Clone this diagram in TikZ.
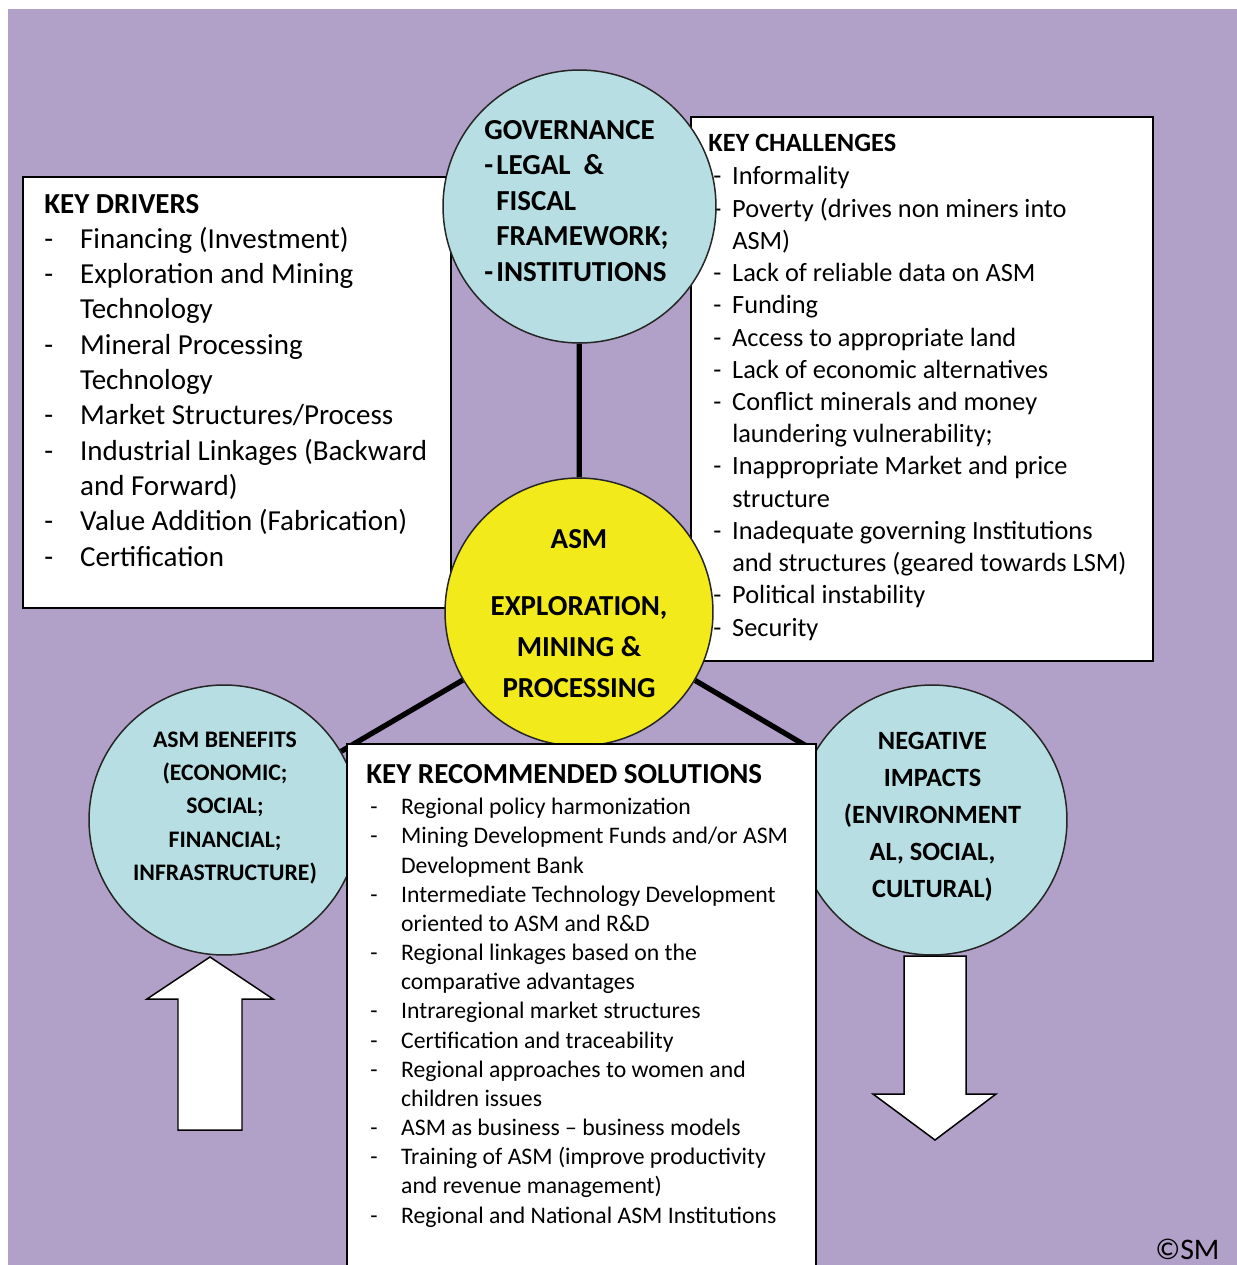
\documentclass[tikz,border=0pt]{standalone}
\usepackage{fontspec}
\setmainfont{Carlito}
\usepackage{tikz}
\usetikzlibrary{positioning}
\definecolor{lavender4}{HTML}{B1A0C7}
\definecolor{paleaqua}{HTML}{B7DEE2}
\definecolor{lemon}{HTML}{F2EA1A}
\pgfdeclarelayer{back}
\pgfsetlayers{back,main}
\newcommand{\driverfont}{\fontsize{16.5}{20.1}\selectfont}
\newcommand{\challfont}{\fontsize{15}{18.35}\selectfont}
\newcommand{\solfont}{\fontsize{13.5}{16.6}\selectfont}

\begin{document}
\begin{tikzpicture}
  [x=0.02cm,y=-0.02cm,
   every node/.style={inner sep=0pt,text=black},
   panel/.style={rectangle,draw=black,line width=1.1pt,fill=white,anchor=north west},
   bubble/.style={circle,draw=black!85,line width=0.85pt,fill=paleaqua},
   link/.style={line width=3pt,black},
   bigarrow/.style={draw=black,line width=0.85pt,fill=white,line join=miter},
   listtext/.style={anchor=base west,align=left},
   bubtext/.style={anchor=base,align=center,font=\bfseries}]
  \useasboundingbox (0,0) rectangle (1237,1265);

  % text panels behind the circles
  \node[panel,minimum width=8.56cm,minimum height=8.62cm] (drivers) at (22,176) {};
  \node[panel,minimum width=9.24cm,minimum height=10.88cm] (challenges) at (690,116) {};
  \node[listtext] (driverlist) at (44,213) {\driverfont
    \begin{tabular}[t]{@{}p{20.4pt}@{}l@{}}
      \multicolumn{2}{@{}l@{}}{\bfseries KEY DRIVERS}\\
      -&Financing (Investment)\\
      -&Exploration and Mining\\
       &Technology\\
      -&Mineral Processing\\
       &Technology\\
      -&Market Structures/Process\\
      -&Industrial Linkages (Backward\\
       &and Forward)\\
      -&Value Addition (Fabrication)\\
      -&Certification
    \end{tabular}};
  \node[listtext] (challlist) at (708,151) {\challfont
    \begin{tabular}[t]{@{\hspace{2.8pt}}p{10.8pt}@{}l@{}}
      \multicolumn{2}{@{}l@{}}{\bfseries KEY CHALLENGES}\\[0.9pt]
      -&Informality\\
      -&Poverty (drives non miners into\\
       &ASM)\\
      -&Lack of reliable data on ASM\\
      -&Funding\\
      -&Access to appropriate land\\
      -&Lack of economic alternatives\\
      -&Conflict minerals and money\\
       &laundering vulnerability;\\
      -&Inappropriate Market and price\\
       &structure\\
      -&Inadequate governing Institutions\\
       &and structures (geared towards LSM)\\
      -&Political instability\\
      -&Security
    \end{tabular}};

  % circles
  \node[bubble,minimum size=5.46cm] (gov) at (579.5,206.5) {};
  \node[bubble,fill=lemon,minimum size=5.36cm] (asm) at (579,612) {};
  \node[bubble,minimum size=5.4cm] (benefits) at (224,820) {};
  \node[bubble,minimum size=5.4cm] (impacts) at (932,820) {};

  \node[listtext,font=\bfseries] (govtext) at (484,139.5) {\fontsize{16.5}{20.2}\selectfont
    \begin{tabular}[t]{@{}p{6.8pt}@{}l@{}}
      \multicolumn{2}{@{}l@{}}{GOVERNANCE}\\
      -&LEGAL\ \ \&\\
       &FISCAL\\
       &FRAMEWORK;\\
      -&INSTITUTIONS
    \end{tabular}};
  \node[bubtext] (asmtext) at (579,548) {\fontsize{16.5}{23.2}\selectfont
    \begin{tabular}[t]{@{}c@{}}
      ASM\\[15.3pt]
      EXPLORATION,\\
      MINING \&\\
      PROCESSING
    \end{tabular}};
  \node[bubtext] (bentext) at (225,747) {\fontsize{13.5}{19}\selectfont
    \begin{tabular}[t]{@{}c@{}}
      ASM BENEFITS\\
      (ECONOMIC;\\
      SOCIAL;\\
      FINANCIAL;\\
      INFRASTRUCTURE)
    \end{tabular}};
  \node[bubtext] (imptext) at (932.5,749.5) {\fontsize{15}{21}\selectfont
    \begin{tabular}[t]{@{}c@{}}
      NEGATIVE\\
      IMPACTS\\
      (ENVIRONMENT\\
      AL, SOCIAL,\\
      CULTURAL)
    \end{tabular}};

  % solutions panel on top
  \node[panel,minimum width=9.38cm,minimum height=11.2cm] (solutions) at (346,743) {};
  \node[listtext] (sollist) at (366,783) {\solfont
    \begin{tabular}[t]{@{\hspace{2.3pt}}p{17.5pt}@{}l@{}}
      \multicolumn{2}{@{}l@{}}{\fontsize{16.5}{20}\selectfont\bfseries KEY RECOMMENDED SOLUTIONS}\\[1.5pt]
      -&Regional policy harmonization\\
      -&Mining Development Funds and/or ASM\\
       &Development Bank\\
      -&Intermediate Technology Development\\
       &oriented to ASM and R\&D\\
      -&Regional linkages based on the\\
       &comparative advantages\\
      -&Intraregional market structures\\
      -&Certification and traceability\\
      -&Regional approaches to women and\\
       &children issues\\
      -&ASM as business – business models\\
      -&Training of ASM (improve productivity\\
       &and revenue management)\\
      -&Regional and National ASM Institutions
    \end{tabular}};

  % block arrows
  \draw[bigarrow] (210,957) -- (273,999) -- (242,999) -- (242,1130)
    -- (178,1130) -- (178,999) -- (147,999) -- cycle;
  \draw[bigarrow] (904,956) -- (966,956) -- (966,1094) -- (996,1094)
    -- (935,1140) -- (873,1094) -- (904,1094) -- cycle;

  \node[anchor=base west,font=\fontsize{17}{20}\selectfont] (mark) at (1155,1259) {©SM};

  \begin{pgfonlayer}{back}
    \fill[lavender4] (8,9) rectangle (1240,1270);
    \foreach \from/\to in {gov/asm,asm/benefits,asm/impacts}
      \draw[link] (\from) -- (\to);
  \end{pgfonlayer}
\end{tikzpicture}
\end{document}
